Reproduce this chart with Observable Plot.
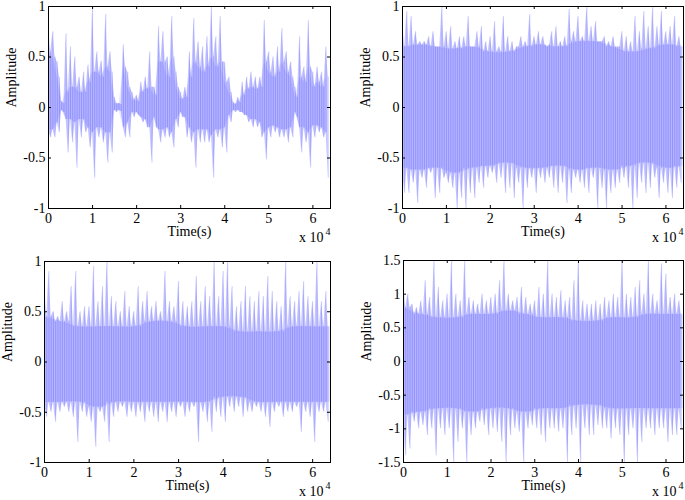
<!DOCTYPE html>
<html><head><meta charset="utf-8">
<script src="https://cdn.jsdelivr.net/npm/d3@7"></script>
<script src="https://cdn.jsdelivr.net/npm/@observablehq/plot@0.6"></script>
<style>
body{margin:0;background:#fff}
#c{position:relative;width:685px;height:500px;overflow:hidden}
#c > div{position:absolute}
#c svg{overflow:visible}
</style></head><body><div id="c"></div>
<script>
// tick values and labels
const xTickValues = [0, 10000, 20000, 30000, 40000, 50000, 60000];
const xTickLabels = ["0", "1", "2", "3", "4", "5", "6"];
const yTicksA = [-1, -0.5, 0, 0.5, 1];
const yTickLabelsA = ["-1", "-0.5", "0", "0.5", "1"];
const yTicksB = [-1.5, -1, -0.5, 0, 0.5, 1, 1.5];
const yTickLabelsB = ["-1.5", "-1", "-0.5", "0", "0.5", "1", "1.5"];
const sampleStep = 1000;   // one envelope column per 1000 samples
const bodyStep = 4000;     // coarse body envelope (panels 2-4)

// panel 1 (top-left): per-column peak max / min and dense-body max / min
const hi1 = [0.78,0.75,0.45,0.06,0.73,0.6,0.5,0.3,0.35,0.42,1.0,0.55,0.46,0.92,0.55,0.1,
             0.04,0.62,0.35,0.15,0.12,0.25,0.3,0.55,0.2,0.8,0.75,0.5,0.9,0.35,0.15,0.2,
             0.55,0.88,0.65,0.6,0.7,1.0,0.7,0.9,0.45,0.3,0.05,0.1,0.25,0.3,0.35,0.3,
             0.3,0.86,0.55,0.5,0.6,0.78,0.55,0.45,0.2,0.7,0.4,0.86,0.35,0.4,0.35,0.6];
const lo1 = [-0.3,-0.3,-0.25,-0.05,-0.45,-0.35,-0.6,-0.3,-0.25,-0.4,-0.7,-0.3,-0.35,-0.55,-0.45,-0.05,
             -0.04,-0.3,-0.3,-0.1,-0.08,-0.15,-0.2,-0.55,-0.2,-0.35,-0.3,-0.3,-0.4,-0.2,-0.1,-0.3,
             -0.35,-0.6,-0.35,-0.35,-0.35,-0.7,-0.3,-0.4,-0.45,-0.15,-0.05,-0.05,-0.08,-0.15,-0.2,-0.2,
             -0.3,-0.52,-0.3,-0.25,-0.3,-0.3,-0.35,-0.3,-0.1,-0.45,-0.35,-0.6,-0.3,-0.25,-0.3,-0.7];
const bodyHi1 = [0.55,0.5,0.3,0.04,0.15,0.2,0.2,0.15,0.15,0.25,0.35,0.35,0.3,0.4,0.35,0.04,
                 0.03,0.4,0.2,0.08,0.06,0.15,0.18,0.2,0.12,0.45,0.45,0.3,0.5,0.2,0.08,0.1,
                 0.3,0.45,0.4,0.35,0.4,0.5,0.4,0.45,0.25,0.15,0.03,0.05,0.12,0.18,0.2,0.18,
                 0.2,0.45,0.35,0.3,0.35,0.45,0.35,0.3,0.1,0.3,0.25,0.4,0.2,0.25,0.2,0.3];
const bodyLo1 = [-0.22,-0.22,-0.15,-0.03,-0.12,-0.12,-0.15,-0.12,-0.12,-0.2,-0.25,-0.2,-0.2,-0.25,-0.25,-0.03,
                 -0.03,-0.2,-0.15,-0.05,-0.05,-0.1,-0.12,-0.2,-0.1,-0.22,-0.22,-0.2,-0.25,-0.12,-0.05,-0.1,
                 -0.2,-0.25,-0.22,-0.22,-0.22,-0.28,-0.22,-0.22,-0.2,-0.08,-0.03,-0.03,-0.05,-0.08,-0.12,-0.12,
                 -0.15,-0.25,-0.2,-0.18,-0.2,-0.22,-0.22,-0.2,-0.05,-0.2,-0.2,-0.25,-0.18,-0.18,-0.2,-0.25];

// panel 2 (top-right)
const hi2 = [0.85,0.95,0.9,0.75,0.65,0.65,0.7,0.75,0.6,1.0,0.75,0.8,0.65,0.7,0.7,0.9,
             0.6,0.75,0.8,0.65,0.7,0.85,0.6,0.9,0.7,0.65,0.6,0.7,0.65,0.92,0.7,0.75,
             0.7,0.6,0.75,0.8,0.65,0.7,0.97,0.75,0.9,0.7,1.0,0.8,0.85,0.65,0.7,0.65,
             0.7,0.6,0.75,0.7,0.65,0.9,0.75,0.95,0.8,1.0,0.8,0.95,0.75,0.8,0.9,0.7];
const lo2 = [-0.85,-0.85,-0.75,-0.95,-0.7,-0.8,-0.65,-0.9,-0.85,-0.7,-0.75,-0.8,-1.0,-0.9,-1.0,-0.85,
             -0.9,-0.75,-0.8,-0.7,-0.65,-0.75,-0.7,-0.85,-0.8,-0.9,-0.75,-1.0,-0.8,-0.7,-0.85,-0.7,
             -0.75,-0.7,-0.8,-0.85,-0.75,-0.95,-0.85,-0.7,-0.75,-0.8,-0.85,-0.7,-1.0,-0.8,-1.0,-0.85,
             -0.8,-0.75,-0.7,-0.8,-1.0,-0.9,-0.75,-0.85,-0.8,-0.7,-0.9,-0.75,-0.85,-0.9,-0.8,-0.75];
const bodyHi2 = [0.6,0.62,0.6,0.58,0.6,0.55,0.55,0.6,0.62,0.6,0.65,0.65,0.6,0.55,0.58,0.62,0.6];
const bodyLo2 = [-0.6,-0.62,-0.6,-0.65,-0.6,-0.58,-0.55,-0.6,-0.6,-0.58,-0.62,-0.6,-0.62,-0.58,-0.55,-0.6,-0.58];

// panel 3 (bottom-left)
const hi3 = [0.8,0.9,0.5,0.45,0.6,0.5,0.75,0.9,0.5,0.55,0.55,0.95,0.6,0.75,1.0,0.65,
             0.6,0.5,0.7,0.55,0.5,0.75,0.6,0.7,0.55,0.6,0.5,0.9,0.6,0.55,0.8,0.6,
             0.55,0.6,0.85,0.6,0.75,0.65,1.0,0.65,0.9,1.0,0.75,0.55,0.6,0.75,0.65,0.6,
             0.7,0.65,0.85,0.7,0.6,0.55,1.0,0.65,0.6,0.7,0.8,0.65,0.6,1.0,0.6,0.7];
const lo3 = [-0.55,-0.5,-0.6,-0.5,-0.45,-0.5,-0.55,-0.8,-0.5,-0.55,-0.6,-0.85,-0.5,-0.6,-0.8,-0.55,
             -0.5,-0.45,-0.55,-0.5,-0.55,-0.5,-0.6,-0.5,-0.55,-0.6,-0.5,-0.6,-0.5,-0.55,-0.45,-0.55,
             -0.5,-0.45,-0.8,-0.5,-0.6,-0.7,-0.5,-0.55,-0.6,-0.45,-0.5,-0.45,-0.55,-0.5,-0.5,-0.45,
             -0.5,-0.55,-0.65,-0.5,-0.45,-0.55,-0.5,-0.5,-0.45,-0.7,-0.5,-0.55,-0.8,-0.5,-0.5,-0.6];
const bodyHi3 = [0.45,0.4,0.35,0.35,0.35,0.35,0.4,0.4,0.35,0.35,0.35,0.3,0.3,0.3,0.35,0.35,0.35];
const bodyLo3 = [-0.4,-0.4,-0.4,-0.45,-0.4,-0.4,-0.4,-0.4,-0.4,-0.4,-0.35,-0.35,-0.4,-0.4,-0.4,-0.4,-0.4];

// panel 4 (bottom-right)
const hi4 = [1.2,1.0,0.85,0.8,0.9,1.2,0.95,1.5,1.1,0.9,1.0,1.5,1.0,0.9,1.5,0.95,
             0.9,0.85,1.0,0.9,0.95,1.0,1.2,1.5,1.0,0.9,0.95,1.1,0.95,0.85,0.9,1.1,
             1.0,1.5,1.0,0.95,1.05,0.9,0.95,1.2,1.5,0.9,0.85,0.85,0.9,0.85,0.95,0.9,
             1.0,0.95,1.5,1.0,0.95,1.1,1.2,1.0,1.5,1.0,0.9,1.45,1.3,0.95,1.0,0.9];
const lo4 = [-1.4,-1.3,-0.9,-1.0,-0.95,-1.1,-1.0,-1.4,-1.0,-1.1,-1.0,-1.5,-1.2,-1.0,-1.5,-1.1,
             -1.0,-0.9,-0.95,-1.1,-1.0,-1.05,-1.2,-1.5,-1.1,-1.0,-1.05,-1.5,-1.0,-0.95,-1.0,-1.1,
             -1.2,-1.0,-1.0,-1.05,-1.0,-1.5,-1.1,-1.0,-1.5,-1.0,-1.1,-1.1,-0.95,-1.0,-1.0,-1.15,
             -1.0,-1.1,-1.5,-1.1,-1.0,-1.5,-1.2,-1.0,-1.0,-1.1,-1.0,-1.0,-1.2,-1.1,-1.1,-1.0];
const bodyHi4 = [0.8,0.7,0.65,0.65,0.7,0.7,0.75,0.7,0.65,0.65,0.6,0.6,0.65,0.65,0.7,0.7,0.7];
const bodyLo4 = [-0.8,-0.75,-0.7,-0.7,-0.75,-0.7,-0.7,-0.75,-0.7,-0.7,-0.65,-0.65,-0.7,-0.7,-0.7,-0.7,-0.7];

const FONT = "Liberation Serif";
const BLUE = "#0000ff";

// body level of column i: a per-column array, or the nearest coarse body sample
function bodyAt(arr, i) {
  return arr.length === 64 ? arr[i] : arr[Math.round(i * sampleStep / bodyStep)];
}
// spiky envelope: top peaks on whole columns, bottom peaks on half columns
function spikes(hi, lo, bh, bl) {
  const pts = [];
  hi.forEach((h, i) => {
    pts.push({t: i * sampleStep, top: h, bot: bodyAt(bl, i)});
    pts.push({t: i * sampleStep + sampleStep / 2, top: bodyAt(bh, i), bot: lo[i]});
  });
  return pts;
}
function bodyPts(bh, bl) {
  return bh.map((h, j) => ({t: j * (bh.length === 64 ? sampleStep : bodyStep), hi: h, lo: bl[j]}));
}

function panel(cfg) {
  const {left, top, width, height, ml, mr, mt, mb, hi, lo, bh, bl, yDomain, yTicks, yLabels} = cfg;
  const innerW = width - ml - mr, innerH = height - mt - mb;
  const sp = spikes(hi, lo, bh, bl);
  const txt = {fontFamily: FONT, fill: "#000"};
  const marks = [
    Plot.areaY(sp, {x: "t", y1: "bot", y2: "top", fill: BLUE, fillOpacity: 0.22, clip: true}),
    Plot.areaY(bodyPts(bh, bl), {x: "t", y1: "lo", y2: "hi", curve: bh.length === 64 ? "linear" : "natural", fill: BLUE, fillOpacity: 0.09, clip: true}),
    Plot.ruleX(sp, {x: "t", y1: "bot", y2: "top", stroke: BLUE, strokeOpacity: 0.27, strokeWidth: 0.7, clip: true}),
    Plot.frame({stroke: "#000", strokeWidth: 1}),
    Plot.tickX(xTickValues, {x: d => d, insetTop: innerH - 3, stroke: "#000"}),
    Plot.tickX(xTickValues, {x: d => d, insetBottom: innerH - 3, stroke: "#000"}),
    Plot.tickY(yTicks, {y: d => d, insetRight: innerW - 3, stroke: "#000"}),
    Plot.tickY(yTicks, {y: d => d, insetLeft: innerW - 3, stroke: "#000"}),
    Plot.axisX(xTickValues, {tickSize: 0, tickPadding: 4.5, tickFormat: d => xTickLabels[xTickValues.indexOf(d)], fontSize: 14, fontFamily: FONT, fill: "#000", label: null}),
    Plot.axisY(yTicks, {tickSize: 0, tickPadding: 3, tickFormat: d => yLabels[yTicks.indexOf(d)], fontSize: 14, fontFamily: FONT, fill: "#000", label: null}),
    Plot.text(["Amplitude"], {...txt, frameAnchor: "left", rotate: -90, dx: -37, fontSize: 14}),
    Plot.text(["Time(s)"], {...txt, frameAnchor: "bottom", dy: 27.5, fontSize: 14}),
    Plot.text(["x 10"], {...txt, frameAnchor: "bottom-right", textAnchor: "end", dx: -7, dy: 33, fontSize: 14}),
    Plot.text(["4"], {...txt, frameAnchor: "bottom-right", textAnchor: "end", dx: 0, dy: 26.5, fontSize: 10})
  ];
  const svg = Plot.plot({
    width, height, marginLeft: ml, marginRight: mr, marginTop: mt, marginBottom: mb,
    x: {domain: [0, 64000], axis: null},
    y: {domain: yDomain, axis: null},
    style: {fontFamily: FONT, fontSize: "14px", color: "#000", background: "transparent"},
    marks
  });
  const wrap = document.createElement("div");
  wrap.style.left = left + "px";
  wrap.style.top = top + "px";
  wrap.appendChild(svg);
  document.getElementById("c").appendChild(wrap);
}

panel({left: 0, top: 0, width: 340, height: 250, ml: 48, mr: 10, mt: 6, mb: 42,
       hi: hi1, lo: lo1, bh: bodyHi1, bl: bodyLo1, yDomain: [-1, 1], yTicks: yTicksA, yLabels: yTickLabelsA});
panel({left: 340, top: 0, width: 345, height: 250, ml: 62, mr: 2, mt: 6, mb: 42,
       hi: hi2, lo: lo2, bh: bodyHi2, bl: bodyLo2, yDomain: [-1, 1], yTicks: yTicksA, yLabels: yTickLabelsA});
panel({left: 0, top: 250, width: 340, height: 250, ml: 44, mr: 10, mt: 11, mb: 38,
       hi: hi3, lo: lo3, bh: bodyHi3, bl: bodyLo3, yDomain: [-1, 1], yTicks: yTicksA, yLabels: yTickLabelsA});
panel({left: 340, top: 250, width: 345, height: 250, ml: 63, mr: 2, mt: 10, mb: 38,
       hi: hi4, lo: lo4, bh: bodyHi4, bl: bodyLo4, yDomain: [-1.5, 1.5], yTicks: yTicksB, yLabels: yTickLabelsB});
</script></body></html>
